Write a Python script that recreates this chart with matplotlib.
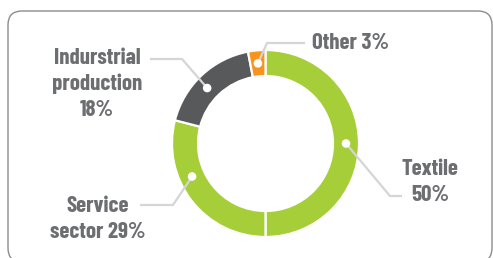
import numpy as np
import matplotlib
matplotlib.use("Agg")
import matplotlib.pyplot as plt
from matplotlib.patches import FancyBboxPatch, Circle

# data
sectors = ["Textile", "Service sector", "Indurstrial production", "Other"]
shares = [50, 29, 18, 3]
label_texts = ["Textile\n50%", "Service\nsector 29%", "Indurstrial\nproduction\n18%", "Other 3%"]
colors = ["#A6CE39", "#A6CE39", "#58595B", "#F7941D"]

W, H = 493, 258
cx, cy = 265.5, H - 143.5
R, ring = 93.5, 26

# where the dot sits inside each wedge (fraction of wedge span) and label layout (pixels)
dot_frac = [0.5, 0.37, 0.55, 0.5]
elbows = [(390, 196), (173, 205), (182, 59), (267, 43)]
line_ends = [(402, 196), (140, 205), (150, 59), (305, 43)]
text_pos = [(430, 182), (98, 219), (97, 84), (312, 43)]
text_ha = ["center", "center", "center", "left"]

fig = plt.figure(figsize=(W / 100, H / 100), dpi=100)
ax = fig.add_axes([0, 0, 1, 1])

wedges, _ = ax.pie(shares, colors=colors, startangle=90, counterclock=False,
                   radius=R, center=(cx, cy),
                   wedgeprops=dict(width=ring, edgecolor="white", linewidth=1.6))
ax.set_xlim(0, W)
ax.set_ylim(0, H)
ax.set_aspect("equal")
ax.axis("off")

font = ["Barlow Condensed", "DejaVu Sans"]
txt_color = "#6D6E71"
line_color = "#D4D5D6"
rmid = R - ring / 2

for w, f, el, le, tp, ha, lab in zip(wedges, dot_frac, elbows, line_ends, text_pos, text_ha, label_texts):
    ang = np.deg2rad(w.theta1 + f * (w.theta2 - w.theta1))
    dx, dy = cx + rmid * np.cos(ang), cy + rmid * np.sin(ang)
    ax.plot([dx, el[0], le[0]], [dy, H - el[1], H - le[1]], color=line_color, lw=1.6,
            solid_capstyle="butt", zorder=3)
    ax.add_patch(Circle((dx, dy), 4.3, facecolor="white", edgecolor="none", zorder=4))
    ax.text(tp[0], H - tp[1], lab, ha=ha, va="center", ma="center", fontsize=16.5, fontweight="bold",
            color=txt_color, family=font, linespacing=1.35)

box = FancyBboxPatch((8, -4), 484, H - 11 + 4, boxstyle="round,pad=0,rounding_size=14",
                     facecolor="none", edgecolor="#8C8C8C", lw=1.0, clip_on=False)
ax.add_patch(box)

fig.savefig("out.png", dpi=100)
